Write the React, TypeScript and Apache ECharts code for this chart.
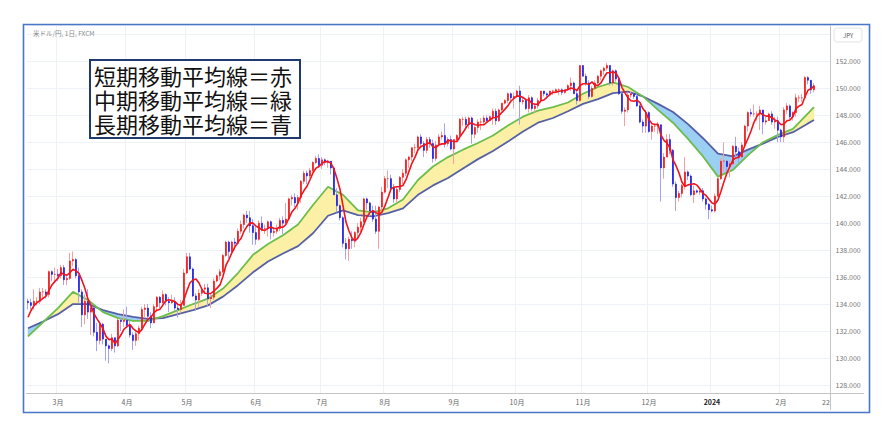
import React, { useEffect, useRef } from 'react';
import * as echarts from 'echarts';

const FONT = '"Noto Sans CJK JP", "Noto Sans", sans-serif';

// Daily candles [open, close, low, high], 2023-02-15 .. 2024-02-16 (weekdays)
const candles: number[][] = [
  // Feb 2023
  [134.2,134.1,133.6,134.4],[134.1,133.9,133.6,134.4],[133.9,134.2,133.6,135.1],[134.2,134.2,133.9,134.5],[134.2,134.9,134.0,135.2],
  [134.9,134.9,134.4,135.2],[134.9,134.7,134.4,135.1],[134.7,136.4,134.5,136.5],[136.4,136.2,135.7,136.5],[136.2,136.2,135.7,136.7],
  // Mar
  [136.2,136.1,135.7,136.6],[136.1,136.7,135.9,136.9],[136.7,135.8,135.4,136.9],[135.8,135.9,135.4,136.1],[135.9,137.2,135.8,137.8],
  [137.2,137.3,136.8,137.9],[137.3,136.1,135.9,137.4],[136.1,134.9,134.1,136.7],[134.9,133.2,132.3,135.1],[133.2,134.2,132.5,134.7],
  [134.2,133.4,132.9,135.1],[133.4,133.7,131.7,133.9],[133.7,131.9,131.6,133.8],[131.9,131.3,130.5,132.6],[131.3,132.5,131.0,132.6],
  [132.5,131.4,131.0,132.6],[131.4,130.9,129.8,131.4],[130.9,130.7,129.6,131.0],[130.7,131.5,130.5,131.8],[131.5,130.9,130.4,131.5],
  [130.9,132.8,130.8,132.9],[132.8,132.7,132.0,133.0],[132.7,132.8,132.3,133.6],
  // Apr
  [132.8,132.4,132.3,133.8],[132.4,131.7,131.5,132.8],[131.7,131.3,130.6,131.9],[131.3,131.8,130.9,132.0],[131.8,132.2,131.3,132.4],
  [132.2,133.6,132.0,133.8],[133.6,133.7,133.0,134.0],[133.7,133.1,132.8,134.0],[133.1,132.6,132.2,133.4],[132.6,133.8,132.6,134.0],
  [133.8,134.5,133.5,134.6],[134.5,134.1,133.7,134.6],[134.1,134.7,133.8,135.0],[134.7,134.2,133.9,134.8],[134.2,134.1,133.4,134.5],
  [134.1,134.2,134.0,134.7],[134.2,133.7,133.5,134.5],[133.7,133.6,133.0,133.9],[133.6,133.9,133.3,134.3],[133.9,136.3,133.9,136.6],
  // May
  [136.3,137.5,136.2,137.8],[137.5,136.6,136.5,137.8],[136.6,134.6,134.5,136.7],[134.6,134.3,133.5,134.8],[134.3,134.8,133.8,135.1],
  [134.8,135.1,134.6,135.2],[135.1,135.2,134.8,135.5],[135.2,134.4,133.8,135.5],[134.4,134.5,133.7,134.8],[134.5,135.7,134.3,135.9],
  [135.7,136.1,135.6,136.2],[136.1,136.4,135.8,136.6],[136.4,137.6,136.3,137.7],[137.6,138.6,137.5,138.7],[138.6,137.9,137.4,138.7],
  [137.9,138.6,137.7,138.7],[138.6,138.5,138.0,138.9],[138.5,139.4,138.4,139.6],[139.4,139.9,139.2,140.2],[139.9,140.6,139.6,140.7],
  [140.6,140.4,140.0,140.9],[140.4,139.8,139.3,140.9],[139.8,139.3,138.4,140.3],
  // Jun
  [139.3,138.8,138.4,139.7],[138.8,140.0,138.7,140.2],[140.0,139.6,139.4,140.5],[139.6,139.6,139.2,139.9],[139.6,140.1,139.0,140.2],
  [140.1,139.3,138.8,140.2],[139.3,139.4,139.0,139.7],[139.4,139.6,139.2,139.9],[139.6,140.2,139.4,140.4],[140.2,140.0,139.2,140.5],
  [140.0,140.3,139.9,141.5],[140.3,141.8,140.2,141.9],[141.8,141.9,141.3,142.1],[141.9,141.5,141.2,142.2],[141.5,141.9,141.0,142.1],
  [141.9,143.1,141.5,143.2],[143.1,143.7,142.9,143.9],[143.7,143.5,142.9,143.9],[143.5,143.9,143.3,144.1],[143.9,144.5,143.8,144.6],
  [144.5,144.8,144.4,145.0],[144.8,144.3,144.1,145.1],
  // Jul
  [144.3,144.7,144.0,144.9],[144.7,144.5,144.3,144.8],[144.5,144.6,144.1,144.7],[144.6,144.1,143.6,144.6],[144.1,142.1,142.1,144.2],
  [142.1,141.3,140.8,142.6],[141.3,140.4,140.2,141.4],[140.4,138.5,138.2,140.5],[138.5,138.1,137.3,138.9],[138.1,138.8,137.2,139.0],
  [138.8,138.7,138.1,139.4],[138.7,139.3,138.2,139.4],[139.3,139.7,138.8,140.0],[139.7,140.1,139.3,140.4],[140.1,141.8,140.0,141.9],
  [141.8,141.5,141.0,141.9],[141.5,140.9,140.5,141.6],[140.9,140.3,140.1,141.3],[140.3,139.4,139.2,141.3],[139.4,141.2,138.1,141.3],
  [141.2,142.3,140.7,142.7],
  // Aug
  [142.3,143.3,142.2,143.5],[143.3,143.3,142.6,143.9],[143.3,142.6,142.4,143.6],[142.6,141.8,141.5,142.9],[141.8,142.5,141.5,142.7],
  [142.5,143.4,142.3,143.5],[143.4,143.7,142.9,144.0],[143.7,144.7,143.5,144.8],[144.7,144.9,144.1,145.0],[144.9,145.6,144.6,145.6],
  [145.6,145.6,145.2,145.9],[145.6,146.4,145.4,146.5],[146.4,145.9,145.7,146.6],[145.9,145.4,144.9,146.1],[145.4,146.2,145.2,146.4],
  [146.2,145.9,145.6,146.4],[145.9,144.8,144.5,146.2],[144.8,145.8,144.6,146.1],[145.8,146.4,145.7,146.6],[146.4,146.5,146.2,146.8],
  [146.5,145.9,145.6,147.4],[145.9,146.2,145.7,146.4],[146.2,145.5,145.4,146.5],
  // Sep
  [145.5,146.2,144.4,146.2],[146.2,146.5,146.0,146.6],[146.5,147.7,146.2,147.8],[147.7,147.7,147.2,147.9],[147.7,147.3,146.9,147.9],
  [147.3,147.8,147.0,147.9],[147.8,146.6,145.9,147.9],[146.6,147.1,146.3,147.2],[147.1,147.5,146.7,147.7],[147.5,147.5,146.9,147.8],
  [147.5,147.8,147.3,148.0],[147.8,147.6,147.5,148.0],[147.6,147.9,147.6,148.0],[147.9,148.3,147.3,148.5],[148.3,147.6,147.3,148.5],
  [147.6,148.4,147.5,148.5],[148.4,148.9,148.3,148.9],[148.9,149.1,148.8,149.2],[149.1,149.6,148.9,149.7],[149.6,149.3,149.1,149.7],
  [149.3,149.4,148.5,149.7],
  // Oct
  [149.4,149.8,149.3,149.9],[149.8,149.0,147.3,150.2],[149.0,149.1,148.8,149.4],[149.1,148.5,148.4,149.2],[148.5,149.3,148.2,149.5],
  [149.3,148.5,148.3,149.4],[148.5,148.7,148.2,148.9],[148.7,149.1,148.5,149.3],[149.1,149.8,148.9,149.8],[149.8,149.6,149.4,149.8],
  [149.6,149.5,149.2,149.7],[149.5,149.8,149.4,149.8],[149.8,149.8,149.5,149.9],[149.8,149.9,149.7,150.0],[149.9,149.9,149.5,150.0],
  [149.9,149.7,149.5,150.0],[149.7,149.9,149.6,149.9],[149.9,150.2,149.8,150.3],[150.2,150.4,149.8,150.8],[150.4,149.6,149.6,150.5],
  [149.6,149.1,148.8,149.8],[149.1,151.7,149.0,151.7],
  // Nov
  [151.7,150.9,150.9,151.7],[150.9,150.4,150.2,151.1],[150.4,149.4,149.2,150.6],[149.4,150.0,149.3,150.2],[150.0,150.4,149.9,150.6],
  [150.4,150.9,150.3,151.0],[150.9,151.3,150.6,151.4],[151.3,151.5,151.0,151.6],[151.5,151.7,151.3,151.9],[151.7,150.4,150.2,151.7],
  [150.4,151.3,150.2,151.4],[151.3,150.7,150.5,151.4],[150.7,149.6,149.5,150.8],[149.6,148.3,148.1,149.7],[148.3,148.4,147.2,148.6],
  [148.4,149.5,148.2,149.7],[149.5,149.6,149.3,149.8],[149.6,149.4,149.2,149.8],[149.4,148.7,148.6,149.6],[148.7,147.5,147.4,148.8],
  [147.5,147.2,146.7,147.7],[147.2,148.2,146.7,148.4],
  // Dec
  [148.2,146.8,146.7,148.3],[146.8,147.2,146.2,147.3],[147.2,147.2,146.8,147.4],[147.2,147.3,146.6,147.5],[147.3,144.1,141.6,147.3],
  [144.1,144.9,143.3,145.2],[144.9,146.2,144.9,146.6],[146.2,145.4,145.1,146.6],[145.4,142.9,142.7,145.5],[142.9,141.9,140.9,143.1],
  [141.9,142.2,141.6,142.4],[142.2,142.8,141.9,142.9],[142.8,143.8,142.5,144.9],[143.8,143.5,143.2,143.9],[143.5,142.1,142.0,143.6],
  [142.1,142.4,141.5,142.8],[142.4,142.3,142.2,142.5],[142.3,142.4,142.1,142.6],[142.4,141.8,141.6,142.6],[141.8,141.4,141.0,141.9],
  [141.4,141.0,140.3,141.5],
  // Jan 2024
  [141.0,140.9,140.8,141.3],[140.9,142.0,140.8,142.2],[142.0,143.3,141.9,143.4],[143.3,144.6,143.2,144.8],[144.6,144.6,143.8,146.0],
  [144.6,144.2,143.7,144.7],[144.2,144.4,143.4,144.6],[144.4,145.7,144.3,145.8],[145.7,145.3,144.9,146.4],[145.3,144.9,144.4,145.6],
  [144.9,145.8,144.9,146.0],[145.8,147.2,145.7,147.3],[147.2,148.2,146.8,148.3],[148.2,148.1,147.9,148.5],[148.1,148.1,147.9,148.8],
  [148.1,148.1,147.6,148.3],[148.1,148.4,146.9,148.7],[148.4,147.5,146.6,148.4],[147.5,147.6,147.3,147.9],[147.6,148.1,147.6,148.2],
  [148.1,147.5,147.3,148.3],[147.5,147.6,147.0,147.9],[147.6,146.9,146.0,147.9],
  // Feb 2024
  [146.9,146.4,146.0,147.0],[146.4,148.4,146.0,148.6],[148.4,148.7,148.1,148.9],[148.7,147.9,147.7,148.8],[147.9,148.2,147.6,148.3],
  [148.2,149.3,147.9,149.6],[149.3,149.3,149.0,149.5],[149.3,149.3,149.0,149.6],[149.3,150.8,149.2,150.9],[150.8,150.6,150.3,150.9],
  [150.6,149.9,149.6,150.6],[149.9,150.2,149.7,150.4],
];

// closes of the four sessions before the first visible candle (feed the 5-day average)
const priorCloses = [131.4, 132.4, 133.1, 134.1];

// medium (green) and long (blue) moving averages read at these candle indices
const maIndex = [0,5,10,15,20,25,30,35,40,45,50,55,60,65,70,75,80,85,90,95,100,105,110,115,120,125,130,135,140,145,150,155,160,165,170,175,180,185,190,195,200,205,210,215,220,225,230,235,240,245,250,255,260,262];
const midMA = [131.6,132.65,133.7,134.9,134.3,133.4,132.95,132.75,132.75,133.1,133.55,134.0,134.4,135.15,136.3,137.65,138.45,139.1,139.9,141.35,142.7,142.1,140.95,140.8,141.1,141.75,143.2,144.2,144.9,145.45,145.95,146.5,147.25,147.9,148.35,148.6,148.95,149.6,150.1,150.45,150.1,149.4,148.4,147.45,146.25,144.95,143.45,143.95,145.05,146.0,146.55,147.0,148.15,148.6];
const longMA = [132.2,132.7,133.25,134.0,134.0,133.55,133.25,133.05,132.9,132.95,133.25,133.55,133.9,134.55,135.4,136.35,137.15,137.75,138.3,139.25,140.55,140.95,140.6,140.5,140.75,141.1,142.1,142.8,143.35,144.05,144.75,145.35,146.05,146.8,147.45,147.8,148.3,148.85,149.2,149.65,149.75,149.4,148.85,148.25,147.35,146.3,145.15,144.95,145.45,145.9,146.4,146.75,147.4,147.65];

// x-axis tick labels at candle indices
const xTickIdx = [10, 33, 53, 76, 98, 119, 142, 163, 185, 207, 228, 251, 266];
const xTickText = ['3月', '4月', '5月', '6月', '7月', '8月', '9月', '10月', '11月', '12月', '2024', '2月', '22'];
const yTickValues = [128, 130, 132, 134, 136, 138, 140, 142, 144, 146, 148, 150, 152];

const CATEGORY_COUNT = 268;
const legendLines = ['短期移動平均線＝赤', '中期移動平均線＝緑', '長期移動平均線＝青'];

function buildCategories(): string[] {
  const out: string[] = [];
  const d = new Date(2023, 1, 15);
  while (out.length < CATEGORY_COUNT) {
    const wd = d.getDay();
    if (wd !== 0 && wd !== 6) {
      out.push(`${d.getFullYear()}-${d.getMonth() + 1}-${d.getDate()}`);
    }
    d.setDate(d.getDate() + 1);
  }
  return out;
}

const UP = '#f20d0d';
const DOWN = '#1414e6';
const UP_WICK = '#f5a0a0';
const DOWN_WICK = '#a3a3f0';
const YELLOW = '#fcf0a6';
const BLUEFILL = '#9ccff4';

export default function App() {
  const ref = useRef<HTMLDivElement>(null);
  useEffect(() => {
    if (!ref.current) return;
    const chart = echarts.init(ref.current, undefined, { renderer: 'svg' });
    const categories = buildCategories();
    const closes = candles.map((c) => c[1]);
    const all = [...priorCloses, ...closes];
    const shortMA = closes.map((_, i) => {
      let s = 0;
      for (let k = 0; k < 5; k++) s += all[i + 4 - k];
      return +(s / 5).toFixed(3);
    });
    const bodies = candles.map((c) => [c[0], c[1], Math.min(c[0], c[1]), Math.max(c[0], c[1])]);
    const tickMap = new Map<number, string>();
    xTickIdx.forEach((idx, k) => tickMap.set(idx, xTickText[k]));
    const gridSet = new Set<number>(xTickIdx.slice(0, -1));

    const fillData = maIndex.slice(0, -1).map((idx, k) => [
      idx, midMA[k], longMA[k], maIndex[k + 1], midMA[k + 1], longMA[k + 1],
    ]);

    const option: any = {
      animation: false,
      backgroundColor: '#ffffff',
      textStyle: { fontFamily: FONT },
      grid: { left: 26.5, right: 63.5, top: 25, bottom: 45, containLabel: false },
      xAxis: {
        type: 'category',
        data: categories,
        boundaryGap: true,
        axisLine: { show: false },
        axisTick: { show: false },
        axisLabel: {
          interval: (i: number) => tickMap.has(i),
          formatter: (_v: string, i: number) => {
            const t = tickMap.get(i) ?? '';
            return t === '2024' ? '{b|2024}' : t;
          },
          fontSize: 7,
          color: '#666',
          margin: 5,
          fontFamily: FONT,
          rich: { b: { fontWeight: 'bold', color: '#222', fontSize: 7, fontFamily: FONT } },
        },
        splitLine: {
          show: true,
          interval: (i: number) => gridSet.has(i),
          lineStyle: { color: '#edf2f8', width: 1 },
        },
      },
      yAxis: {
        type: 'value',
        position: 'right',
        min: 127.4,
        max: 154.7,
        splitNumber: 14,
        axisLine: { show: false },
        axisTick: { show: false },
        axisLabel: {
          fontSize: 7,
          color: '#777',
          margin: 5,
          fontFamily: FONT,
          showMinLabel: false,
          showMaxLabel: false,
          formatter: (v: number) => (yTickValues.includes(Math.round(v)) && Math.abs(v - Math.round(v)) < 1e-6 ? v.toFixed(3) : ''),
        },
        splitLine: { show: true, lineStyle: { color: '#edf2f8', width: 1 } },
      },
      series: [
        {
          type: 'custom',
          name: 'band',
          z: 1,
          silent: true,
          encode: { x: [0, 3], y: [1, 2, 4, 5] },
          data: fillData,
          renderItem: (_p: any, api: any) => {
            const x0 = api.value(0), g0 = api.value(1), b0 = api.value(2);
            const x1 = api.value(3), g1 = api.value(4), b1 = api.value(5);
            const G0 = api.coord([x0, g0]), B0 = api.coord([x0, b0]);
            const G1 = api.coord([x1, g1]), B1 = api.coord([x1, b1]);
            const d0 = g0 - b0, d1 = g1 - b1;
            const col = (d: number) => (d >= 0 ? YELLOW : BLUEFILL);
            const poly = (pts: number[][], c: string) => ({
              type: 'polygon', shape: { points: pts }, style: { fill: c, stroke: c, lineWidth: 0.6 },
            });
            const children: any[] = [];
            if (d0 * d1 >= 0) {
              children.push(poly([G0, G1, B1, B0], col(d0 + d1)));
            } else {
              const t = d0 / (d0 - d1);
              const X = [G0[0] + (G1[0] - G0[0]) * t, G0[1] + (G1[1] - G0[1]) * t];
              children.push(poly([G0, X, B0], col(d0)));
              children.push(poly([X, G1, B1], col(d1)));
            }
            return { type: 'group', children };
          },
        },
        {
          type: 'line', name: '長期', z: 2, symbol: 'none', smooth: false,
          data: maIndex.map((idx, k) => [idx, longMA[k]]),
          lineStyle: { color: '#5560a6', width: 1.8 },
        },
        {
          type: 'line', name: '中期', z: 2, symbol: 'none', smooth: false,
          data: maIndex.map((idx, k) => [idx, midMA[k]]),
          lineStyle: { color: '#6cbd4b', width: 1.8 },
        },
        {
          type: 'candlestick', name: 'wick', z: 3, barWidth: 1,
          data: candles,
          itemStyle: { color: UP_WICK, color0: DOWN_WICK, borderColor: UP_WICK, borderColor0: DOWN_WICK, borderColorDoji: UP_WICK, borderWidth: 1 },
        },
        {
          type: 'candlestick', name: 'body', z: 4, barWidth: 2.2,
          data: bodies,
          itemStyle: { color: UP, color0: DOWN, borderColor: UP, borderColor0: DOWN, borderColorDoji: UP, borderWidth: 0.6 },
        },
        {
          type: 'line', name: '短期', z: 5, symbol: 'none',
          data: shortMA,
          lineStyle: { color: '#f0141e', width: 1.6 },
        },
      ],
      graphic: [
        { type: 'rect', z: 50, shape: { x: 23.5, y: 24.5, width: 846, height: 388 }, style: { fill: 'none', stroke: '#4a76c8', lineWidth: 1.6 } },
        { type: 'line', z: 50, shape: { x1: 26, y1: 393.5, x2: 864, y2: 393.5 }, style: { stroke: '#c4c4c4', lineWidth: 1 } },
        { type: 'line', z: 50, shape: { x1: 830.5, y1: 25, x2: 830.5, y2: 410 }, style: { stroke: '#c4c4c4', lineWidth: 1 } },
        { type: 'rect', z: 60, shape: { x: 834, y: 28, width: 28, height: 14, r: 3 }, style: { fill: '#ffffff', stroke: '#e4e4e4', lineWidth: 1 } },
        { type: 'text', z: 61, x: 848, y: 35, style: { text: 'JPY', fontSize: 6, fill: '#555', align: 'center', verticalAlign: 'middle', fontFamily: FONT } },
        { type: 'text', z: 61, x: 33, y: 33, style: { text: '米ドル/円, 1日, FXCM', fontSize: 6.5, fill: '#8a8a8a', align: 'left', verticalAlign: 'middle', fontFamily: FONT } },
        { type: 'rect', z: 70, shape: { x: 90, y: 60, width: 210, height: 78 }, style: { fill: '#ffffff', stroke: '#1f3a6e', lineWidth: 2 } },
        ...legendLines.map((t, k) => ({
          type: 'text', z: 71, x: 94, y: 75 + k * 24,
          style: { text: t, fontSize: 22, fill: '#111', align: 'left', verticalAlign: 'middle', fontFamily: FONT },
        })),
      ],
    };
    chart.setOption(option);
    return () => chart.dispose();
  }, []);
  return (
    <div
      ref={ref}
      style={{ position: 'absolute', left: 0, top: 0, width: 894, height: 438 }}
    />
  );
}
